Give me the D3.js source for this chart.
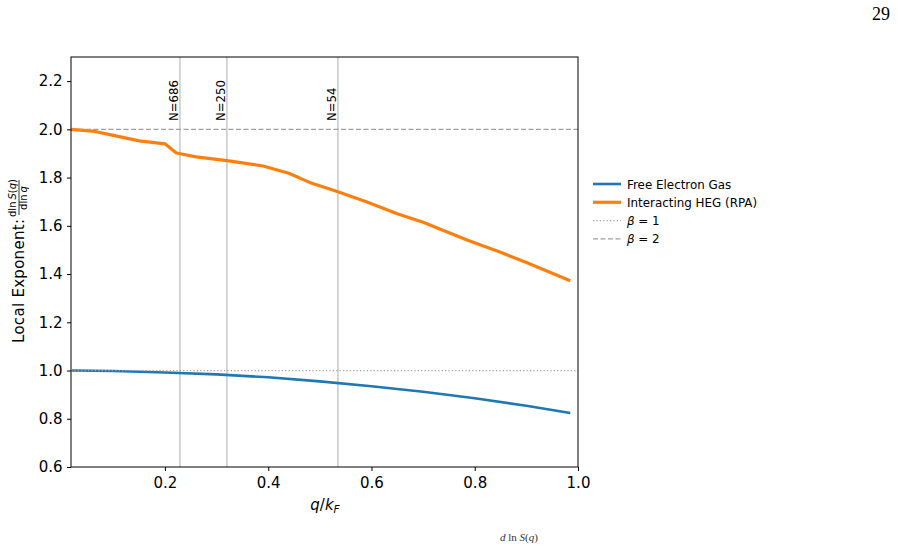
<!DOCTYPE html>
<html>
<head>
<meta charset="utf-8">
<script src="https://cdn.jsdelivr.net/npm/d3@7"></script>
<style>
  body { margin: 0; background: #fff; }
  svg { display: block; font-family: "DejaVu Sans", sans-serif; }
</style>
</head>
<body>
<svg id="chart" width="897" height="546"></svg>
<script>
// data
const qFree = [0.02, 0.1, 0.2, 0.3, 0.4, 0.5, 0.6, 0.7, 0.8, 0.9, 0.985];
const expFree = [1.0, 0.998, 0.992, 0.984, 0.972, 0.955, 0.935, 0.912, 0.885, 0.854, 0.824];

const qRpa = [0.018, 0.06, 0.1, 0.15, 0.2, 0.222, 0.26, 0.32, 0.39, 0.44, 0.48, 0.535, 0.59, 0.65, 0.7, 0.785, 0.85, 0.9, 0.985];
const expRpa = [2.0, 1.993, 1.975, 1.952, 1.940, 1.902, 1.886, 1.870, 1.848, 1.818, 1.780, 1.741, 1.700, 1.650, 1.615, 1.541, 1.490, 1.448, 1.372];

const sizeLabels = ['N=686', 'N=250', 'N=54'];
const sizeQ = [0.229, 0.320, 0.535];

const xTicks = [0.2, 0.4, 0.6, 0.8, 1.0];
const yTicks = [0.6, 0.8, 1.0, 1.2, 1.4, 1.6, 1.8, 2.0, 2.2];

const svg = d3.select('#chart');

const x = d3.scaleLinear().domain([0.018, 1.0]).range([71, 578]);
const y = d3.scaleLinear().domain([0.6, 2.3]).range([467, 57]);

const plot = svg.append('g');

// finite-size markers
plot.selectAll('.nline')
  .data(sizeQ)
  .join('line')
  .attr('class', 'nline')
  .attr('x1', d => x(d)).attr('x2', d => x(d))
  .attr('y1', y.range()[0]).attr('y2', y.range()[1])
  .attr('stroke', '#c8c8c8')
  .attr('stroke-width', 1.5);

plot.selectAll('.nlabel')
  .data(sizeQ)
  .join('text')
  .attr('class', 'nlabel')
  .attr('transform', d => `translate(${x(d) - 1.5},121) rotate(-90)`)
  .attr('font-size', 11.7)
  .attr('fill', '#000')
  .text((d, i) => sizeLabels[i]);

const line = d3.line()
  .x(d => x(d[0]))
  .y(d => y(d[1]));

plot.append('path')
  .datum(qFree.map((q, i) => [q, expFree[i]]))
  .attr('d', line)
  .attr('fill', 'none')
  .attr('stroke', '#1f77b4')
  .attr('stroke-width', 2.6)
  .attr('stroke-linejoin', 'round');

plot.append('path')
  .datum(qRpa.map((q, i) => [q, expRpa[i]]))
  .attr('d', line)
  .attr('fill', 'none')
  .attr('stroke', '#ff7f0e')
  .attr('stroke-width', 3.2)
  .attr('stroke-linejoin', 'round');

// reference slopes
plot.append('line')
  .attr('x1', x.range()[0]).attr('x2', x.range()[1])
  .attr('y1', y(1)).attr('y2', y(1))
  .attr('stroke', '#a0a0a0')
  .attr('stroke-width', 1.2)
  .attr('stroke-dasharray', '1.2,2.2');

plot.append('line')
  .attr('x1', x.range()[0]).attr('x2', x.range()[1])
  .attr('y1', y(2)).attr('y2', y(2))
  .attr('stroke', '#a0a0a0')
  .attr('stroke-width', 1.4)
  .attr('stroke-dasharray', '5,2.5');

// axes
const xAxis = svg.append('g')
  .attr('transform', `translate(0,${y.range()[0]})`)
  .call(d3.axisBottom(x).tickValues(xTicks).tickFormat(d3.format('.1f')).tickSize(4).tickSizeOuter(0));
const yAxis = svg.append('g')
  .attr('transform', `translate(${x.range()[0]},0)`)
  .call(d3.axisLeft(y).tickValues(yTicks).tickFormat(d3.format('.1f')).tickSize(4).tickSizeOuter(0));

[xAxis, yAxis].forEach(g => {
  g.select('.domain').remove();
  g.selectAll('text').attr('font-size', 15).attr('font-family', '"DejaVu Sans", sans-serif').attr('fill', '#000');
  g.selectAll('line').attr('stroke', '#000').attr('stroke-width', 1);
});
xAxis.selectAll('text').attr('dy', '0.95em');
yAxis.selectAll('text').attr('dx', '-0.1em');

svg.append('rect')
  .attr('x', x.range()[0]).attr('y', y.range()[1])
  .attr('width', x.range()[1] - x.range()[0])
  .attr('height', y.range()[0] - y.range()[1])
  .attr('fill', 'none')
  .attr('stroke', '#000')
  .attr('stroke-width', 1);

// x label
const xl = svg.append('text')
  .attr('x', 325).attr('y', 510)
  .attr('text-anchor', 'middle')
  .attr('font-size', 15);
xl.append('tspan').attr('font-style', 'italic').text('q');
xl.append('tspan').text('/');
xl.append('tspan').attr('font-style', 'italic').text('k');
xl.append('tspan').attr('font-style', 'italic').attr('font-size', 10.5).attr('dy', 3).text('F');

// y label with fraction
const yl = svg.append('g').attr('transform', 'translate(18,262) rotate(-90)');
yl.append('text')
  .attr('x', -81).attr('y', 5.5)
  .attr('font-size', 15)
  .attr('textLength', 124)
  .text('Local Exponent:');
const num = yl.append('text')
  .attr('x', 64).attr('y', -2)
  .attr('text-anchor', 'middle')
  .attr('font-size', 10);
num.append('tspan').text('dln\u2009');
num.append('tspan').attr('font-style', 'italic').text('S');
num.append('tspan').text('(');
num.append('tspan').attr('font-style', 'italic').text('q');
num.append('tspan').text(')');
yl.append('line')
  .attr('x1', 47).attr('x2', 82)
  .attr('y1', 1).attr('y2', 1)
  .attr('stroke', '#000').attr('stroke-width', 0.8);
const den = yl.append('text')
  .attr('x', 64).attr('y', 9)
  .attr('text-anchor', 'middle')
  .attr('font-size', 10);
den.append('tspan').text('dln\u2009');
den.append('tspan').attr('font-style', 'italic').text('q');

// legend
const legendItems = [
  { label: 'Free Electron Gas', color: '#1f77b4', width: 2.6, dash: null },
  { label: 'Interacting HEG (RPA)', color: '#ff7f0e', width: 3.2, dash: null },
  { label: '\u03b2 = 1', color: '#a0a0a0', width: 1.2, dash: '1.2,2.2', math: true },
  { label: '\u03b2 = 2', color: '#a0a0a0', width: 1.4, dash: '5,2.5', math: true }
];
const legend = svg.append('g').attr('transform', 'translate(593,184)');
const rows = legend.selectAll('g')
  .data(legendItems)
  .join('g')
  .attr('transform', (d, i) => `translate(0,${i * 18.3})`);
rows.append('line')
  .attr('x1', 0).attr('x2', 28)
  .attr('stroke', d => d.color)
  .attr('stroke-width', d => d.width)
  .attr('stroke-dasharray', d => d.dash);
rows.each(function (d) {
  const t = d3.select(this).append('text')
    .attr('x', 34).attr('y', 4.5)
    .attr('font-size', 11.9);
  if (d.math) {
    t.append('tspan').attr('font-style', 'italic').text('\u03b2');
    t.append('tspan').text(d.label.slice(1));
  } else {
    t.text(d.label);
  }
});

// page number and caption fragment at the foot of the page
svg.append('text')
  .attr('x', 890).attr('y', 20)
  .attr('text-anchor', 'end')
  .attr('font-family', '"Liberation Serif", "DejaVu Serif", serif')
  .attr('font-size', 18)
  .text('29');

const cap = svg.append('text')
  .attr('x', 500).attr('y', 541)
  .attr('font-family', '"Liberation Serif", "DejaVu Serif", serif')
  .attr('font-size', 11)
  .attr('fill', '#333');
cap.append('tspan').attr('font-style', 'italic').text('d');
cap.append('tspan').text(' ln ');
cap.append('tspan').attr('font-style', 'italic').text('S');
cap.append('tspan').text('(');
cap.append('tspan').attr('font-style', 'italic').text('q');
cap.append('tspan').text(')');
</script>
</body>
</html>
